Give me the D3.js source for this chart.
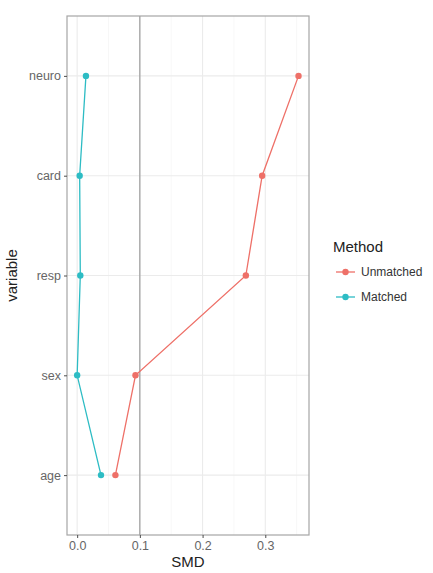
<!DOCTYPE html>
<html>
<head>
<meta charset="utf-8">
<script src="https://cdn.jsdelivr.net/npm/d3@7"></script>
<style>
  body { margin: 0; background: #fff; }
  svg { display: block; font-family: "Liberation Sans", Arial, sans-serif; }
</style>
</head>
<body>
<svg id="chart" width="433" height="573"></svg>
<script>
// Covariates from bottom to top of the y axis
const variables = ["age", "sex", "resp", "card", "neuro"];
// Standardized mean differences per method, in the order of `variables`
const unmatched = [0.061, 0.093, 0.269, 0.295, 0.353];
const matched = [0.038, 0.000, 0.005, 0.004, 0.014];
const methods = ["Unmatched", "Matched"];
const methodColors = ["#EE7068", "#2DBCC4"];
const xTicks = [0.0, 0.1, 0.2, 0.3];
const xMinor = [0.05, 0.15, 0.25, 0.35];
const threshold = 0.1;

const series = [
  { name: methods[0], color: methodColors[0], values: unmatched },
  { name: methods[1], color: methodColors[1], values: matched }
];

const svg = d3.select("#chart");
const panel = { left: 67, top: 16, right: 309, bottom: 535 };

const x = d3.scaleLinear()
  .domain([-0.0162, 0.3697])
  .range([panel.left, panel.right]);

const y = d3.scalePoint()
  .domain(variables)
  .range([panel.bottom, panel.top])
  .padding(0.6);

// panel background
svg.append("rect")
  .attr("x", panel.left).attr("y", panel.top)
  .attr("width", panel.right - panel.left)
  .attr("height", panel.bottom - panel.top)
  .attr("fill", "#fff");

// minor grid
svg.append("g").selectAll("line").data(xMinor).join("line")
  .attr("x1", d => x(d)).attr("x2", d => x(d))
  .attr("y1", panel.top).attr("y2", panel.bottom)
  .attr("stroke", "#f2f2f2").attr("stroke-width", 0.6);

// major grid
svg.append("g").selectAll("line").data(xTicks).join("line")
  .attr("x1", d => x(d)).attr("x2", d => x(d))
  .attr("y1", panel.top).attr("y2", panel.bottom)
  .attr("stroke", "#ebebeb").attr("stroke-width", 1.1);

svg.append("g").selectAll("line").data(variables).join("line")
  .attr("x1", panel.left).attr("x2", panel.right)
  .attr("y1", d => y(d)).attr("y2", d => y(d))
  .attr("stroke", "#ebebeb").attr("stroke-width", 1.1);

// reference line at the balance threshold
svg.append("line")
  .attr("x1", x(threshold)).attr("x2", x(threshold))
  .attr("y1", panel.top).attr("y2", panel.bottom)
  .attr("stroke", "#8c8c8c").attr("stroke-width", 1);

// lines and points per method
const line = d3.line()
  .x(d => x(d.v))
  .y(d => y(d.k));

series.forEach(s => {
  const pts = variables.map((k, i) => ({ k, v: s.values[i] }));
  svg.append("path")
    .datum(pts)
    .attr("d", line)
    .attr("fill", "none")
    .attr("stroke", s.color)
    .attr("stroke-width", 1.3);
  svg.append("g").selectAll("circle").data(pts).join("circle")
    .attr("cx", d => x(d.v))
    .attr("cy", d => y(d.k))
    .attr("r", 3.2)
    .attr("fill", s.color);
});

// panel border
svg.append("rect")
  .attr("x", panel.left).attr("y", panel.top)
  .attr("width", panel.right - panel.left)
  .attr("height", panel.bottom - panel.top)
  .attr("fill", "none")
  .attr("stroke", "#a6a6a6").attr("stroke-width", 1.2);

// axes
const xAxis = d3.axisBottom(x).tickValues(xTicks).tickFormat(d3.format(".1f"))
  .tickSize(3).tickPadding(3);
const gx = svg.append("g")
  .attr("transform", `translate(0,${panel.bottom})`)
  .call(xAxis);
gx.select(".domain").remove();
gx.selectAll(".tick line").attr("stroke", "#4d4d4d");
gx.selectAll(".tick text").attr("fill", "#666").style("font-size", "12.5px");

const yAxis = d3.axisLeft(y).tickSize(3).tickPadding(3);
const gy = svg.append("g")
  .attr("transform", `translate(${panel.left},0)`)
  .call(yAxis);
gy.select(".domain").remove();
gy.selectAll(".tick line").attr("stroke", "#4d4d4d");
gy.selectAll(".tick text").attr("fill", "#666").style("font-size", "12.5px");

// axis titles
svg.append("text")
  .attr("x", (panel.left + panel.right) / 2)
  .attr("y", 567)
  .attr("text-anchor", "middle")
  .style("font-size", "15px")
  .attr("fill", "#222")
  .text("SMD");

svg.append("text")
  .attr("transform", `translate(17,${(panel.top + panel.bottom) / 2}) rotate(-90)`)
  .attr("text-anchor", "middle")
  .style("font-size", "15px")
  .attr("fill", "#222")
  .text("variable");

// legend
const legend = svg.append("g").attr("transform", "translate(333,0)");
legend.append("text")
  .attr("x", 0).attr("y", 252)
  .style("font-size", "15px")
  .attr("fill", "#222")
  .text("Method");

series.forEach((s, i) => {
  const cy = 272 + i * 25;
  legend.append("line")
    .attr("x1", 3).attr("x2", 22)
    .attr("y1", cy).attr("y2", cy)
    .attr("stroke", s.color).attr("stroke-width", 1.3);
  legend.append("circle")
    .attr("cx", 12.5).attr("cy", cy).attr("r", 3.2)
    .attr("fill", s.color);
  legend.append("text")
    .attr("x", 28).attr("y", cy + 4)
    .style("font-size", "12px")
    .attr("fill", "#333")
    .text(s.name);
});
</script>
</body>
</html>
